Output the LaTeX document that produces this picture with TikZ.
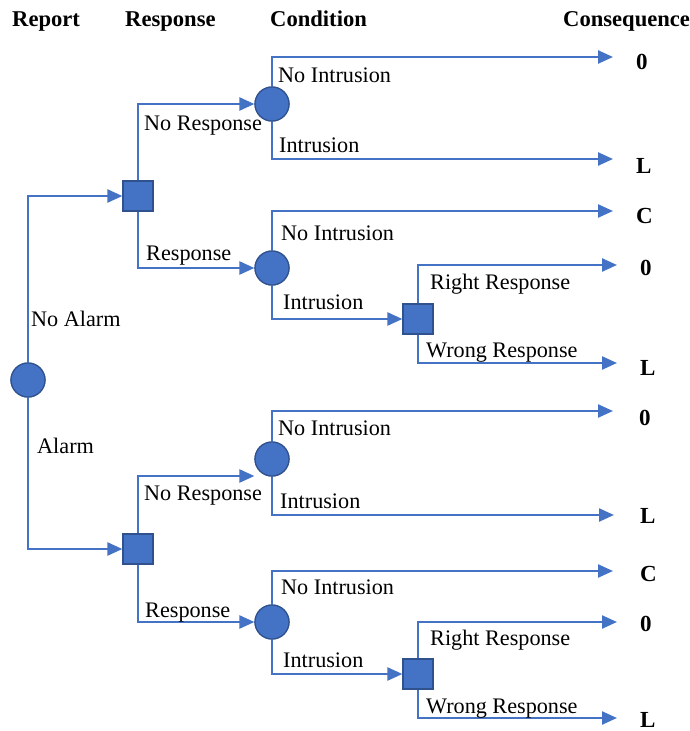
\documentclass[tikz,border=0pt]{standalone}
\usepackage{fontspec}
\setmainfont{Liberation Serif}
\usetikzlibrary{arrows.meta}
\definecolor{tblue}{HTML}{4472C4}
\definecolor{tedge}{HTML}{2F528F}
\tikzset{
  chance/.style={circle,fill=tblue,draw=tedge,line width=1.2pt,minimum size=34pt,inner sep=0pt},
  decision/.style={rectangle,fill=tblue,draw=tedge,line width=1.2pt,minimum size=30pt,inner sep=0pt},
  arr/.style={draw=tblue,line width=2.4pt,-{Triangle[length=15pt,width=13pt]}},
  lbl/.style={anchor=base west,inner sep=0pt,font=\fontsize{22.2}{25}\selectfont},
  hdr/.style={anchor=base west,inner sep=0pt,font=\fontsize{22.6}{25}\selectfont\bfseries},
  cons/.style={anchor=base west,inner sep=0pt,font=\fontsize{23}{25}\selectfont\bfseries}
}
\begin{document}
\begin{tikzpicture}[x=1pt,y=-1pt]
\useasboundingbox (0,0) rectangle (690,731);
% headers
\node[hdr] (hrep) at (12,26) {Report};
\node[hdr] (hres) at (125,26) {Response};
\node[hdr] (hcon) at (270,26) {Condition};
\node[hdr] (hcsq) at (563,26) {Consequence};
% nodes
\node[chance] (root) at (28,380) {};
\node[decision] (s1) at (138,196) {};
\node[chance] (c1) at (272,104) {};
\node[chance] (c2) at (272,268) {};
\node[decision] (s2) at (418,319) {};
\node[decision] (s3) at (138,549) {};
\node[chance] (c3) at (272,459) {};
\node[chance] (c4) at (272,622) {};
\node[decision] (s4) at (418,674) {};
% arrow ends
\coordinate (e1) at (613,57);
\coordinate (e2) at (613,159);
\coordinate (e3) at (613,211);
\coordinate (e4) at (617,265);
\coordinate (e5) at (617,363);
\coordinate (e6) at (613,411);
\coordinate (e7) at (614,515);
\coordinate (e8) at (613,571);
\coordinate (e9) at (617,622);
\coordinate (e10) at (617,718);
% connectors
\draw[arr] (root.north) |- (s1.west);
\draw[arr] (root.south) |- (s3.west);
\draw[arr] (s1.north) |- (c1.west);
\draw[arr] (s1.south) |- (c2.west);
\draw[arr] (c1.north) |- (e1);
\draw[arr] (c1.south) |- (e2);
\draw[arr] (c2.north) |- (e3);
\draw[arr] (c2.south) |- (s2.west);
\draw[arr] (s2.north) |- (e4);
\draw[arr] (s2.south) |- (e5);
\draw[arr] (s3.north) |- ([yshift=-17pt]c3.west);
\draw[arr] (s3.south) |- (c4.west);
\draw[arr] (c3.north) |- (e6);
\draw[arr] (c3.south) |- (e7);
\draw[arr] (c4.north) |- (e8);
\draw[arr] (c4.south) |- (s4.west);
\draw[arr] (s4.north) |- (e9);
\draw[arr] (s4.south) |- (e10);
% redraw nodes on top
\node[chance] at (root) {};
\node[decision] at (s1) {};
\node[chance] at (c1) {};
\node[chance] at (c2) {};
\node[decision] at (s2) {};
\node[decision] at (s3) {};
\node[chance] at (c3) {};
\node[chance] at (c4) {};
\node[decision] at (s4) {};
% labels
\node[lbl] (lna) at (31,326) {No Alarm};
\node[lbl] (la) at (37,453) {Alarm};
\node[lbl] (lnr1) at (144,130) {No Response};
\node[lbl] (lr1) at (146,260) {Response};
\node[lbl] (lni1) at (278,82) {No Intrusion};
\node[lbl] (li1) at (279,152) {Intrusion};
\node[lbl] (lni2) at (281,240) {No Intrusion};
\node[lbl] (li2) at (283,309) {Intrusion};
\node[lbl] (lrr1) at (430,289) {Right Response};
\node[lbl] (lwr1) at (426,357) {Wrong Response};
\node[lbl] (lnr2) at (144,500) {No Response};
\node[lbl] (lr2) at (145,617) {Response};
\node[lbl] (lni3) at (278,435) {No Intrusion};
\node[lbl] (li3) at (280,508) {Intrusion};
\node[lbl] (lni4) at (281,594) {No Intrusion};
\node[lbl] (li4) at (283,667) {Intrusion};
\node[lbl] (lrr2) at (430,645) {Right Response};
\node[lbl] (lwr2) at (426,713) {Wrong Response};
% consequences
\node[cons] (k1) at (636,69) {0};
\node[cons] (k2) at (636,173) {L};
\node[cons] (k3) at (636,223) {C};
\node[cons] (k4) at (640,275) {0};
\node[cons] (k5) at (640,375) {L};
\node[cons] (k6) at (639,425) {0};
\node[cons] (k7) at (640,523) {L};
\node[cons] (k8) at (640,581) {C};
\node[cons] (k9) at (640,631) {0};
\node[cons] (k10) at (640,727) {L};
\end{tikzpicture}
\end{document}
